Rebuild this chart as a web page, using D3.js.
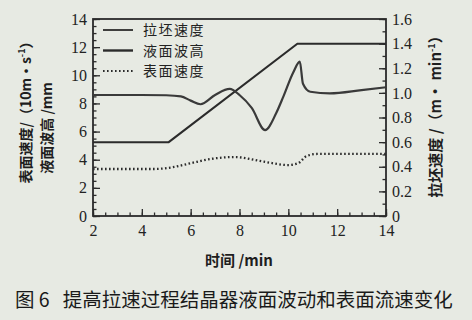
<!DOCTYPE html>
<html>
<head>
<meta charset="utf-8">
<script src="https://cdn.jsdelivr.net/npm/d3@7"></script>
<style>
  body { margin: 0; background: #e7eae3; }
  svg { display: block; }
</style>
</head>
<body>
<div id="viz"></div>
<script>
// pulling speed (right axis, m/min)
var pull_time = [2, 5.1, 10.37, 14],
	pull_speed = [0.6, 0.6, 1.4, 1.4];

// liquid level wave height (left axis, mm)
var level_time = [2, 4, 5, 5.6, 6.0, 6.4, 7.0, 7.6, 8.0, 8.5, 9.05, 9.5, 9.8, 10.2, 10.47, 10.6, 10.9, 11.7, 13, 14],
	level_height = [8.6, 8.6, 8.58, 8.5, 8.2, 7.94, 8.6, 9.03, 8.6, 7.68, 6.1, 7.3, 8.5, 10.2, 10.97, 9.4, 8.83, 8.72, 8.95, 9.15];

// surface velocity (left axis)
var surf_time = [2, 4.5, 5.2, 6.0, 6.8, 7.8, 9.0, 10.0, 10.4, 10.75, 11.2, 14],
	surf_speed = [3.34, 3.34, 3.45, 3.75, 4.05, 4.19, 3.86, 3.62, 3.75, 4.26, 4.41, 4.41];

var legend_labels = ['拉坯速度', '液面波高', '表面速度'];
var x_ticks = [2, 4, 6, 8, 10, 12, 14],
	y_ticks = [0, 2, 4, 6, 8, 10, 12, 14],
	yr_ticks = [0, 0.2, 0.4, 0.6, 0.8, 1.0, 1.2, 1.4, 1.6];

(function(){
var w = 472, h = 320,
	pl = 93, pr = 386, pt = 19, pb = 216;
var ink = '#2b2b2b';

var svg = d3.select('#viz').append('svg')
	.attr('width', w)
	.attr('height', h);

var x = d3.scaleLinear().domain([2, 14]).range([pl, pr]);
var y = d3.scaleLinear().domain([0, 14]).range([pb, pt]);
var yr = d3.scaleLinear().domain([0, 1.6]).range([pb, pt]);

function styleAxis(g) {
	g.select('.domain').remove();
	g.selectAll('line').attr('stroke', ink).attr('stroke-width', 1.3);
	g.selectAll('text')
		.attr('fill', '#222')
		.style('font-family', '"Liberation Serif", "DejaVu Serif", serif')
		.style('font-size', '16px');
}

//MINOR TICKS
svg.append('g').attr('transform', 'translate(' + pl + ',0)')
	.call(d3.axisLeft(y).tickValues(d3.range(0, 14.01, 0.5)).tickSize(-3.5).tickFormat(''))
	.call(styleAxis);
svg.append('g').attr('transform', 'translate(0,' + pb + ')')
	.call(d3.axisBottom(x).tickValues(d3.range(2, 14.01, 0.5)).tickSize(-3.5).tickFormat(''))
	.call(styleAxis);
svg.append('g').attr('transform', 'translate(' + pr + ',0)')
	.call(d3.axisRight(yr).tickValues(d3.range(0, 1.601, 0.1)).tickSize(-3.5).tickFormat(''))
	.call(styleAxis);

//MAJOR TICKS
svg.append('g').attr('transform', 'translate(' + pl + ',0)')
	.call(d3.axisLeft(y).tickValues(y_ticks).tickSize(-7).tickPadding(6).tickFormat(d3.format('d')))
	.call(styleAxis);
svg.append('g').attr('transform', 'translate(0,' + pb + ')')
	.call(d3.axisBottom(x).tickValues(x_ticks).tickSize(-7).tickPadding(9).tickFormat(d3.format('d')))
	.call(styleAxis);
svg.append('g').attr('transform', 'translate(' + pr + ',0)')
	.call(d3.axisRight(yr).tickValues(yr_ticks).tickSize(-7).tickPadding(6)
		.tickFormat(function(d){ return d === 0 ? '0' : d.toFixed(1); }))
	.call(styleAxis);

//FRAME
svg.append('rect')
	.attr('x', pl).attr('y', pt)
	.attr('width', pr - pl).attr('height', pb - pt)
	.attr('fill', 'none')
	.attr('stroke', ink)
	.attr('stroke-width', 1.8);

//LINES
var pullLine = d3.line()
	.x(function(d, i){ return x(pull_time[i]); })
	.y(function(d){ return yr(d); });
var levelLine = d3.line()
	.x(function(d, i){ return x(level_time[i]); })
	.y(function(d){ return y(d); })
	.curve(d3.curveMonotoneX);
var surfLine = d3.line()
	.x(function(d, i){ return x(surf_time[i]); })
	.y(function(d){ return y(d); })
	.curve(d3.curveMonotoneX);

svg.append('path')
	.attr('d', pullLine(pull_speed))
	.attr('fill', 'none').attr('stroke', ink).attr('stroke-width', 2);
svg.append('path')
	.attr('d', levelLine(level_height))
	.attr('fill', 'none').attr('stroke', '#3a3a3a').attr('stroke-width', 2.2);
svg.append('path')
	.attr('d', surfLine(surf_speed))
	.attr('fill', 'none').attr('stroke', ink).attr('stroke-width', 2.3)
	.attr('stroke-dasharray', '1.6,2.4');

//LEGEND
var legend_y = [30, 50.5, 71];
var dashes = [null, null, '1.6,2.4'];
var legend = svg.selectAll('.legend')
	.data(legend_labels)
	.enter().append('g')
		.attr('class', 'legend')
		.attr('transform', function(d, i){ return 'translate(103,' + legend_y[i] + ')'; });
legend.append('line')
	.attr('x1', 0).attr('x2', 30)
	.attr('stroke', ink)
	.attr('stroke-width', function(d, i){ return i === 1 ? 2.4 : 1.8; })
	.attr('stroke-dasharray', function(d, i){ return dashes[i]; });
legend.append('text')
	.attr('x', 40)
	.attr('dy', '0.36em')
	.attr('fill', '#222')
	.style('font-family', '"Noto Sans CJK SC", sans-serif')
	.style('font-size', '14px')
	.style('letter-spacing', '1.5px')
	.text(function(d){ return d; });

//AXIS TITLES
var cjk = '"Noto Sans CJK SC", sans-serif';
var t1 = svg.append('text')
	.attr('transform', 'translate(31,109) rotate(-90)')
	.attr('text-anchor', 'middle')
	.attr('fill', '#1e1e1e')
	.style('font-family', cjk).style('font-size', '14px').style('font-weight', 'bold');
t1.append('tspan').text('表面速度/（10m·s');
t1.append('tspan').attr('dy', -6).style('font-size', '9px').text('-1');
t1.append('tspan').attr('dy', 6).text('）');

svg.append('text')
	.attr('transform', 'translate(52,128) rotate(-90)')
	.attr('text-anchor', 'middle')
	.attr('fill', '#1e1e1e')
	.style('font-family', cjk).style('font-size', '14px').style('font-weight', 'bold')
	.text('液面波高 /mm');

var t3 = svg.append('text')
	.attr('transform', 'translate(441,113) rotate(-90)')
	.attr('text-anchor', 'middle')
	.attr('fill', '#1e1e1e')
	.style('font-family', cjk).style('font-size', '15px').style('font-weight', 'bold');
t3.append('tspan').text('拉坯速度 /（m· min');
t3.append('tspan').attr('dy', -6).style('font-size', '9px').text('-1');
t3.append('tspan').attr('dy', 6).text('）');

svg.append('text')
	.attr('x', 239).attr('y', 266)
	.attr('text-anchor', 'middle')
	.attr('fill', '#1e1e1e')
	.style('font-family', cjk).style('font-size', '15px').style('font-weight', 'bold')
	.text('时间 /min');

//CAPTION
svg.append('text')
	.attr('x', 15).attr('y', 307)
	.attr('fill', '#1a1a1a')
	.style('font-family', cjk).style('font-size', '19.5px')
	.attr('xml:space', 'preserve')
	.text('图 6   提高拉速过程结晶器液面波动和表面流速变化');
})();
</script>
</body>
</html>
